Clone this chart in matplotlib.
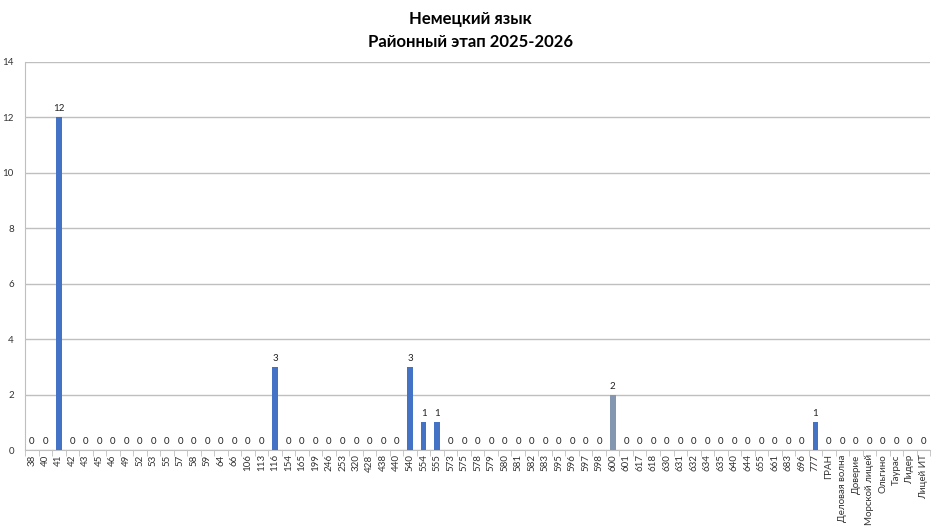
import matplotlib
matplotlib.use('Agg')
import matplotlib.pyplot as plt
import numpy as np

plt.rcParams['font.family'] = ['Lato', 'DejaVu Sans']

schools = ['38', '40', '41', '42', '43', '45', '46', '49', '52', '53', '55', '57', '58', '59',
           '64', '66', '106', '113', '116', '154', '165', '199', '246', '253', '320', '428',
           '438', '440', '540', '554', '555', '573', '575', '578', '579', '580', '581', '582',
           '583', '595', '596', '597', '598', '600', '601', '617', '618', '630', '631', '632',
           '634', '635', '640', '644', '655', '661', '683', '696', '777', 'ГРАН',
           'Деловая волна', 'Доверие', 'Морской лицей', 'Ольгино', 'Таурас', 'Лидер', 'Лицей ИТ']
counts = [0, 0, 12, 0, 0, 0, 0, 0, 0, 0, 0, 0, 0, 0,
          0, 0, 0, 0, 3, 0, 0, 0, 0, 0, 0, 0,
          0, 0, 3, 1, 1, 0, 0, 0, 0, 0, 0, 0,
          0, 0, 0, 0, 0, 2, 0, 0, 0, 0, 0, 0,
          0, 0, 0, 0, 0, 0, 0, 0, 1, 0,
          0, 0, 0, 0, 0, 0, 0]
yticks = [0, 2, 4, 6, 8, 10, 12, 14]

colors = ['#8497B0' if s == '600' else '#4472C4' for s in schools]

fig = plt.figure(figsize=(9.4, 5.29), dpi=100)
ax = fig.add_axes([0.0266, 0.149, 0.963, 0.734])

x = np.arange(len(schools))
ax.bar(x, counts, width=0.42, color=colors, zorder=3)
for xi, v in zip(x, counts):
    ax.text(xi, v + 0.15, str(v), ha='center', va='bottom', fontsize=7, color='#222222')

ax.set_xlim(-0.5, len(schools) - 0.5)
ax.set_ylim(0, 14)
ax.set_yticks(yticks)
ax.tick_params(axis='y', length=0, labelsize=7, pad=8, colors='#333333')
ax.yaxis.grid(True, color='#bfbfbf', linewidth=1, zorder=0)

ax.set_xticks(x)
ax.set_xticklabels(schools, rotation=90, fontsize=7, color='#333333')
ax.tick_params(axis='x', length=0, pad=3)
ax.set_xticks(np.arange(-0.5, len(schools), 1), minor=True)
ax.tick_params(axis='x', which='minor', length=4, color='#bfbfbf')

for side in ['top', 'right']:
    ax.spines[side].set_visible(False)
ax.spines['left'].set_color('#bfbfbf')
ax.spines['bottom'].set_color('#bfbfbf')

fig.text(0.5, 0.964, 'Немецкий язык', ha='center', va='center', fontsize=12, fontweight='bold')
fig.text(0.5, 0.921, 'Районный этап 2025-2026', ha='center', va='center', fontsize=12, fontweight='bold')

fig.savefig('out.png', dpi=100)
